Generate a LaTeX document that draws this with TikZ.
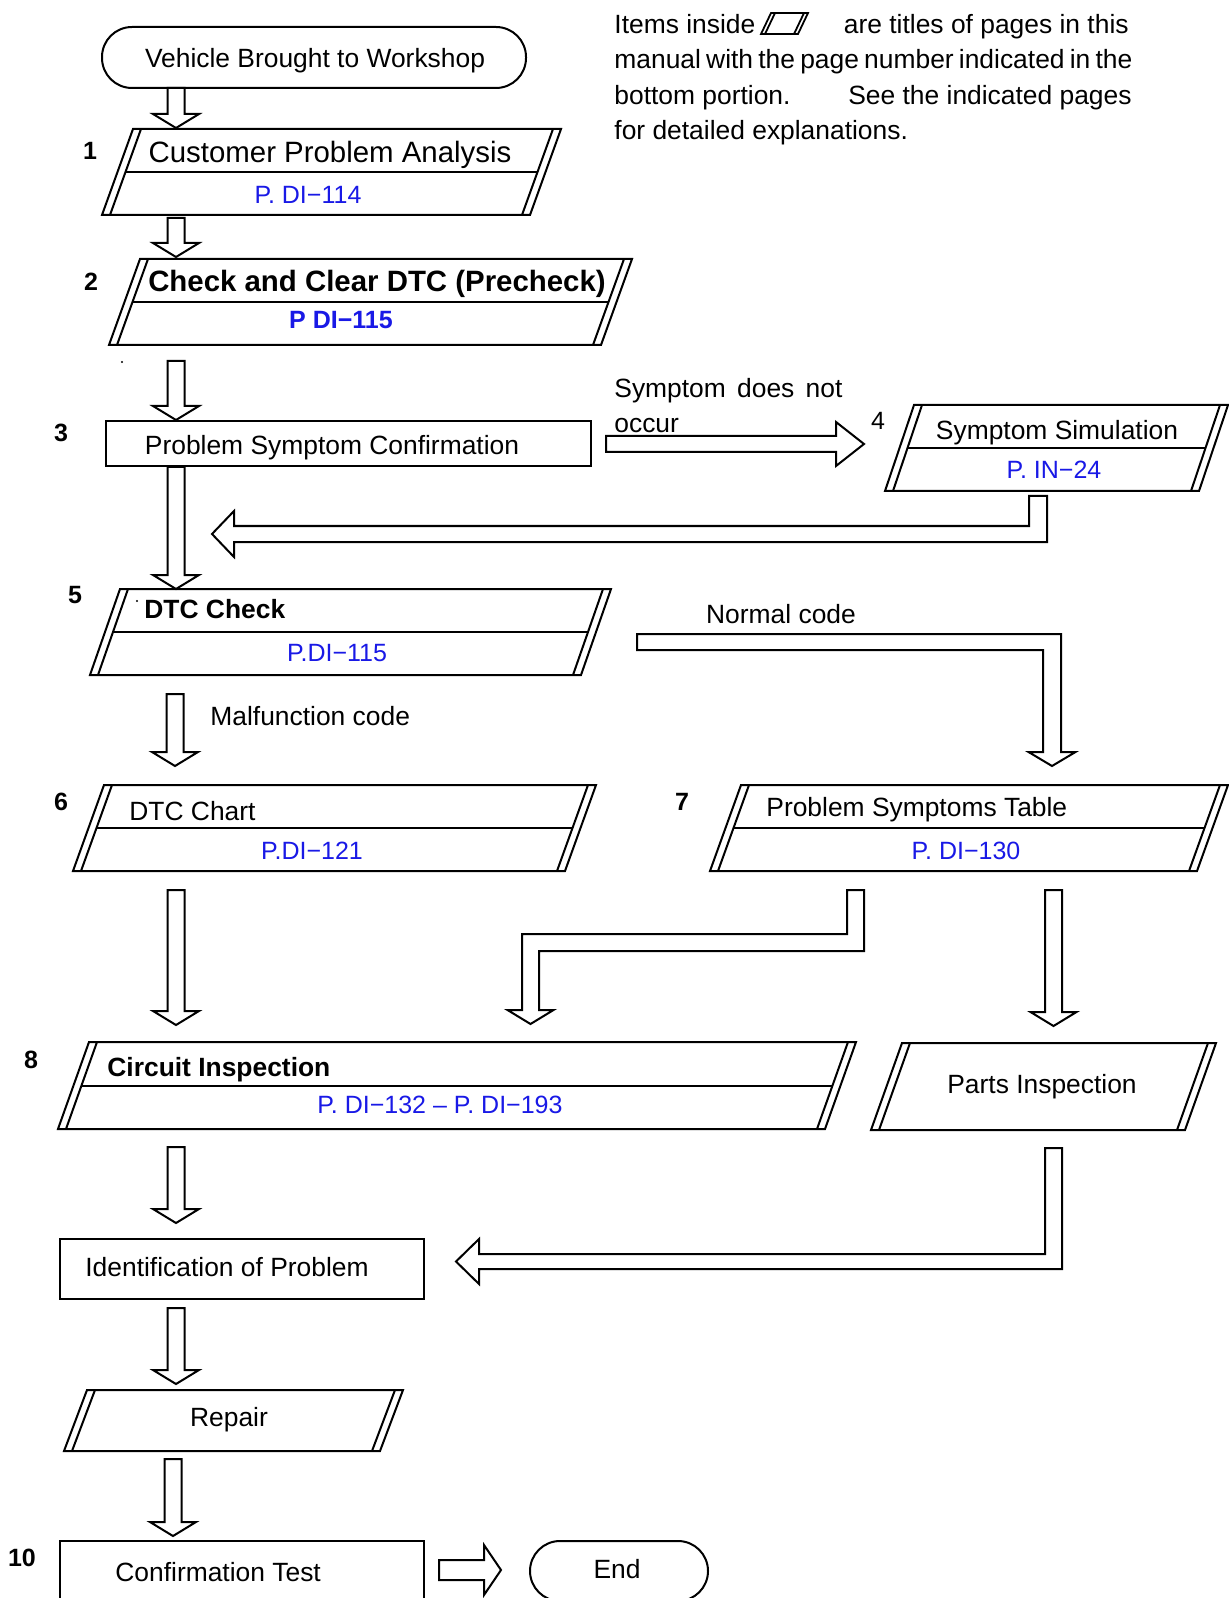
\documentclass[tikz,border=0pt]{standalone}
\usepackage{fontspec}
\setmainfont{Liberation Sans}
\definecolor{refblue}{RGB}{25,25,230}
\tikzset{
  ln/.style={line width=1pt, line join=miter},
  txt/.style={anchor=base, inner sep=0pt, font=\fontsize{13.2pt}{15pt}\selectfont},
  txtL/.style={txt, anchor=base west},
  txtB/.style={txt, font=\fontsize{13.2pt}{15pt}\selectfont\bfseries},
  txtBL/.style={txtB, anchor=base west},
  big/.style={anchor=base, inner sep=0pt, font=\fontsize{14.7pt}{17pt}\selectfont},
  bigB/.style={big, font=\fontsize{14.7pt}{17pt}\selectfont\bfseries},
  ref/.style={anchor=base, inner sep=0pt, text=refblue, font=\fontsize{12.5pt}{15pt}\selectfont},
  refB/.style={ref, font=\fontsize{12.5pt}{15pt}\selectfont\bfseries},
  num/.style={anchor=base, inner sep=0pt, font=\fontsize{12.5pt}{15pt}\selectfont\bfseries},
  numR/.style={anchor=base, inner sep=0pt, font=\fontsize{12.5pt}{15pt}\selectfont},
}
% parallelogram with double side lines: TLx, TRx, top y, bottom y, slant, divider(1/0)
\newcommand\pgbox[6]{%
  \pgfmathsetmacro\pgqA{#1-#5}\pgfmathsetmacro\pgqB{#2-#5}%
  \pgfmathsetmacro\pgqC{#1+8}\pgfmathsetmacro\pgqD{#1+8-#5}%
  \pgfmathsetmacro\pgqE{#2-8}\pgfmathsetmacro\pgqF{#2-8-#5}%
  \draw[ln] (#1,#3) -- (#2,#3) -- (\pgqB,#4) -- (\pgqA,#4) -- cycle;
  \draw[ln] (\pgqC,#3) -- (\pgqD,#4) (\pgqE,#3) -- (\pgqF,#4);
  \ifnum#6=1
    \pgfmathsetmacro\pgqM{(#3+#4)/2}%
    \pgfmathsetmacro\pgqG{#1+8-#5/2}\pgfmathsetmacro\pgqH{#2-8-#5/2}%
    \draw[ln] (\pgqG,\pgqM) -- (\pgqH,\pgqM);
  \fi}
% downward block arrow: x centre, y top, y tip
\newcommand\darr[3]{%
  \pgfmathsetmacro\daL{#1-8.5}\pgfmathsetmacro\daR{#1+8.5}%
  \pgfmathsetmacro\daHL{#1-23}\pgfmathsetmacro\daHR{#1+23}%
  \pgfmathsetmacro\daB{#3-14}%
  \draw[ln] (\daL,#2) -- (\daL,\daB) -- (\daHL,\daB) -- (#1,#3) -- (\daHR,\daB) -- (\daR,\daB) -- (\daR,#2) -- cycle;}
\begin{document}
\begin{tikzpicture}[x=0.5pt,y=-0.5pt]
\useasboundingbox (0,0) rectangle (1229,1598);
\clip (0,0) rectangle (1229,1598);

% legend
\node[txtL] (leg1a) at (614,33.5) {Items inside};
\draw[line width=0.9pt] (771,13) -- (808,13) -- (798,34) -- (761,34) -- cycle;
\draw[line width=0.9pt] (775,13) -- (765,34) (804,13) -- (794,34);
\node[txt, anchor=base east] (leg1b) at (1129,33.5) {are titles of pages in this};
\node[txtL] (leg2) at (614,68.5) {\makebox[259pt][s]{\spaceskip=0.1em plus 1em manual with the page number indicated in the}};
\node[txtL] (leg3a) at (614,104.5) {bottom portion.};
\node[txt, anchor=base east] (leg3b) at (1132,104.5) {See the indicated pages};
\node[txtL] (leg4) at (614,139.5) {for detailed explanations.};

% start terminal
\draw[ln, rounded corners=15pt] (102,27) rectangle (526,88);
\node[txt] (veh) at (315,67.5) {Vehicle Brought to Workshop};

% 1
\darr{176}{88}{128}
\pgbox{133}{561}{129}{215}{31}{1}
\node[num] (n1) at (90,160) {1};
\node[big] (cpa) at (330,163) {Customer Problem Analysis};
\node[ref] (cparef) at (308,204) {P. DI−114};

% 2
\darr{176}{218}{257}
\pgbox{140}{632}{259}{345}{31}{1}
\node[num] (n2) at (91,291) {2};
\node[bigB] (ccd) at (377,292) {Check and Clear DTC (Precheck)};
\node[refB] (ccdref) at (341,329) {P DI−115};
\fill (122,362) circle (1.2);

% 3
\darr{176}{361}{420}
\draw[ln] (106,421) rectangle (591,466);
\node[num] (n3) at (61,442) {3};
\node[txt] (psc) at (332,454.5) {Problem Symptom Confirmation};

% symptom does not occur arrow
\draw[ln] (606,436) -- (836,436) -- (836,422) -- (864,444) -- (836,466) -- (836,452) -- (606,452) -- cycle;
\node[txtL] (sdn) at (614,398) {\makebox[114pt][s]{Symptom does not}};
\node[txtL] (occ) at (614,433) {occur};

% 4
\node[numR] (n4) at (878,430) {4};
\pgbox{914}{1228}{405}{491}{29}{1}
\node[txt] (ssim) at (1057,439.5) {Symptom Simulation};
\node[ref] (ssref) at (1054,479) {P. IN−24};

% return arrow from 4
\draw[ln] (1029,496) -- (1047,496) -- (1047,542) -- (234,542) -- (234,557) -- (212,534) -- (234,511) -- (234,526) -- (1029,526) -- cycle;

% 5
\darr{176}{467}{589}
\pgbox{120}{611}{589}{675}{30}{1}
\fill (137,601) circle (1.2);
\node[num] (n5) at (75,603) {5};
\node[txtBL] (dtcc) at (144,618.5) {DTC Check};
\node[ref] (dtcref) at (337,661) {P.DI−115};

% normal code arrow
\draw[ln] (637,634) -- (1061,634) -- (1061,752) -- (1075.5,752) -- (1052,766) -- (1028.5,752) -- (1043,752) -- (1043,650) -- (637,650) -- cycle;
\node[txt] (norm) at (781,623.5) {Normal code};

% malfunction
\darr{175}{694}{766}
\node[txtL] (malf) at (210,725.5) {Malfunction code};

% 6
\pgbox{104}{596}{785}{871}{31}{1}
\node[num] (n6) at (61,810) {6};
\node[txtL] (chart) at (129,820.5) {DTC Chart};
\node[ref] (chartref) at (312,859) {P.DI−121};

% 7
\pgbox{741}{1228}{785}{871}{31}{1}
\node[num] (n7) at (682,810) {7};
\node[txtL] (pst) at (766,816.5) {Problem Symptoms Table};
\node[ref] (pstref) at (966,859) {P. DI−130};

% arrows to 8 and parts
\darr{176}{890}{1025}
\draw[ln] (847,890) -- (864,890) -- (864,951) -- (539,951) -- (539,1010) -- (553.5,1010) -- (530.5,1024) -- (507.5,1010) -- (522,1010) -- (522,934) -- (847,934) -- cycle;
\darr{1053.5}{890}{1026}

% 8
\pgbox{89}{856}{1042}{1129}{31}{1}
\node[num] (n8) at (31,1068) {8};
\node[txtBL] (circ) at (107,1076.5) {Circuit Inspection};
\node[ref] (circref) at (440,1113) {P. DI−132 – P. DI−193};

% parts
\pgbox{902}{1216}{1043}{1130}{31}{0}
\node[txt] (parts) at (1042,1093.5) {Parts Inspection};

% parts -> identification
\draw[ln] (1045,1148) -- (1062,1148) -- (1062,1269) -- (479,1269) -- (479,1284) -- (456,1261.5) -- (479,1239) -- (479,1254) -- (1045,1254) -- cycle;

% identification
\darr{176}{1147}{1223}
\draw[ln] (60,1239) rectangle (424,1299);
\node[txtL] (ident) at (85,1276.5) {Identification of Problem};

% repair
\darr{176}{1308}{1384}
\pgbox{87}{403}{1390}{1451}{23}{0}
\node[txt] (rep) at (229,1426.5) {Repair};

% confirmation
\darr{173}{1459}{1536}
\draw[ln] (60,1541) rectangle (424,1610);
\node[num] (n10) at (22,1566) {10};
\node[txtL] (conf) at (115,1581.5) {Confirmation Test};

% end
\draw[ln] (439,1560) -- (484,1560) -- (484,1545) -- (501,1570) -- (484,1595) -- (484,1580) -- (439,1580) -- cycle;
\draw[ln, rounded corners=15pt] (530,1541) rectangle (708,1601);
\node[txt] (endt) at (617,1578.5) {End};
\end{tikzpicture}
\end{document}
